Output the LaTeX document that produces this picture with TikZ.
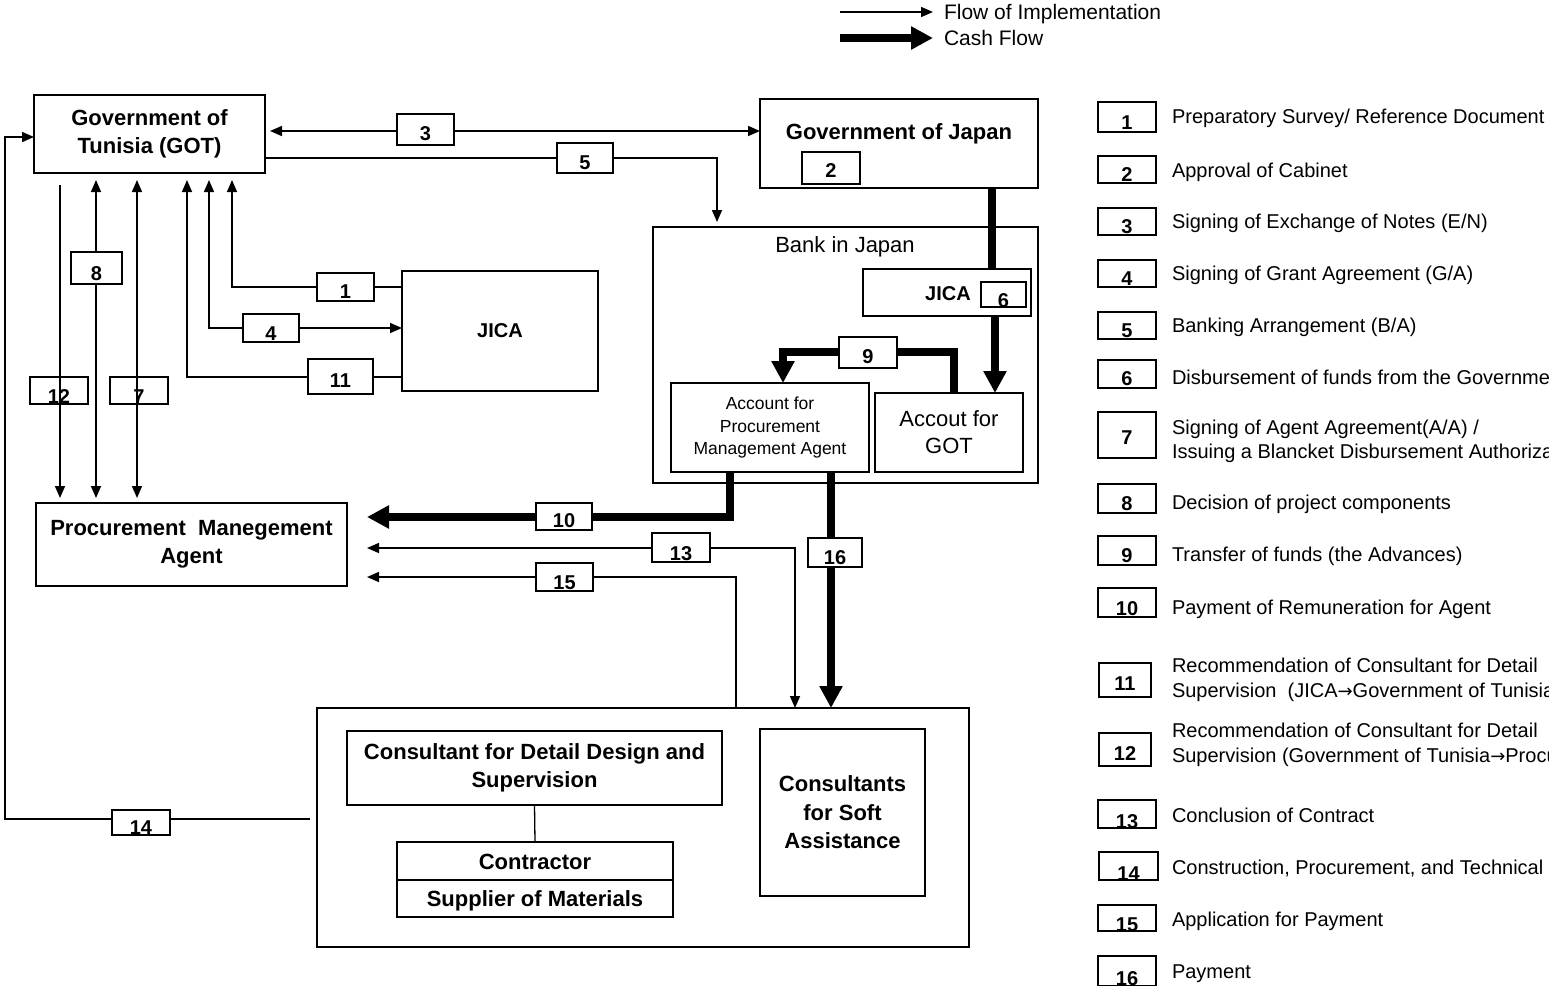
\documentclass[tikz,border=0pt]{standalone}
\usepackage{fontspec}
\setmainfont{Liberation Sans}
\newfontfamily\arrfont{DejaVu Sans}
\usetikzlibrary{arrows.meta}
\newcommand{\rarr}{{\arrfont\fontsize{18}{20}\selectfont →}}
\begin{document}
\begin{tikzpicture}[x=1pt,y=-1pt,
  every node/.style={inner sep=0pt, outer sep=0pt},
  box/.style={draw, line width=1.3pt, inner sep=0pt, align=center},
  bt/.style={font=\bfseries\fontsize{22}{28.5}\selectfont},
  num/.style={draw, fill=white, line width=1.3pt, inner sep=0pt, font=\bfseries\fontsize{20}{20}\selectfont, text height=22pt, text depth=0pt},
  numclear/.style={num, fill=none},
  flow/.style={line width=1.6pt},
  tipf/.tip={Triangle[length=12pt,width=10pt]},
  cash/.style={line width=7.5pt},
  tipc/.tip={Triangle[length=22pt,width=22pt]},
  leg/.style={anchor=base west, font=\fontsize{20}{24}\selectfont},
  legtop/.style={anchor=base west, font=\fontsize{21}{24}\selectfont}
]
\path[use as bounding box, clip] (0,0) rectangle (1549,985);

% ---------- main boxes ----------
\node[box, bt, minimum width=231pt, minimum height=78pt] (got) at (149.5,134) {Government of\\Tunisia (GOT)};
\node[box, minimum width=278pt, minimum height=89pt] (goj) at (899,143.5) {};
\node[bt, anchor=base] (gojt) at (899,139) {Government of Japan};
\node[box, minimum width=385pt, minimum height=256pt] (bank) at (845.5,355) {};
\node[font=\fontsize{22}{26}\selectfont, anchor=base] (bankt) at (845,252) {Bank in Japan};
\node[box, minimum width=168pt, minimum height=47pt] (jicab) at (947,292.5) {};
\node[font=\bfseries\fontsize{20}{24}\selectfont, anchor=base] (jicabt) at (948,300) {JICA};
\node[box, font=\fontsize{17.5}{22.5}\selectfont, minimum width=198pt, minimum height=89pt] (accpma) at (770,427.5) {Account for\\Procurement\\Management Agent};
\node[box, font=\fontsize{22}{27}\selectfont, minimum width=148pt, minimum height=79pt] (accgot) at (949,432.5) {Accout for\\GOT};
\node[box, font=\bfseries\fontsize{20}{24}\selectfont, minimum width=196pt, minimum height=120pt] (jica) at (500,331) {JICA};
\node[box, bt, minimum width=311pt, minimum height=83pt] (pma) at (191.5,544.5) {Procurement~ Manegement\\Agent};
\node[box, minimum width=652pt, minimum height=239pt] (outer) at (643,827.5) {};
\node[box, bt, minimum width=375pt, minimum height=74pt] (cdd) at (534.5,768) {Consultant for Detail Design and\\Supervision};
\node[box, bt, minimum width=276pt, minimum height=38pt, text height=16pt, text depth=0pt] (contr) at (535,861) {Contractor};
\node[box, bt, minimum width=276pt, minimum height=37pt, text height=16pt, text depth=0pt] (supp) at (535,898.5) {Supplier of Materials};
\node[box, bt, minimum width=165pt, minimum height=167pt] (csa) at (842.5,812.5) {Consultants\\for Soft\\Assistance};

% ---------- implementation flows ----------
\draw[flow, {tipf}-{tipf}, shorten <=5pt] (got.east |- 0,131) -- (goj.west |- 0,131);
\draw[flow, -{tipf}, shorten >=5pt] (got.east |- 0,158) -| (bank.north -| 717,0);
\draw[flow, -{tipf}, shorten >=7pt] (jica.west |- 0,287) -| (got.south -| 232,0);
\draw[flow, {tipf}-{tipf}, shorten <=7pt] (got.south -| 209,0) |- (jica.west |- 0,328);
\draw[flow, -{tipf}, shorten >=7pt] (jica.west |- 0,377) -| (got.south -| 187,0);
\draw[flow, -{tipf}, shorten <=12pt, shorten >=5pt] (got.south -| 60,0) -- (pma.north -| 60,0);
\draw[flow, {tipf}-{tipf}, shorten <=7pt, shorten >=5pt] (got.south -| 96,0) -- (pma.north -| 96,0);
\draw[flow, {tipf}-{tipf}, shorten <=7pt, shorten >=5pt] (got.south -| 137,0) -- (pma.north -| 137,0);
\draw[flow, {tipf}-{tipf}, shorten <=20pt] (pma.east |- 0,548) -| (outer.north -| 795,0);
\draw[flow, {tipf}-, shorten <=20pt] (pma.east |- 0,577) -| (outer.north -| 736,0);
\draw[flow, -{tipf}, shorten <=7pt] (outer.west |- 0,819) -| (5,137) -- (got.west |- 0,137);
\draw[line width=1.3pt] (cdd.south) -- (contr.north);

% ---------- cash flows ----------
\draw[cash] (goj.south -| 992,0) -- (jicab.north -| 992,0);
\draw[cash, -{tipc}] (jicab.south -| 995,0) -- (accgot.north -| 995,0);
\draw[cash, -{tipc}] (accgot.north -| 954,0) -- (954,352) -- (783,352) -- (accpma.north -| 783,0);
\draw[cash, -{tipc}, shorten >=20pt] (accpma.south -| 730,0) |- (pma.east |- 0,517);
\draw[cash, -{tipc}] (accpma.south -| 831,0) -- (outer.north -| 831,0);

% ---------- step labels ----------
\node[num, minimum width=57pt, minimum height=31pt, text height=21pt] (n3) at (425.5,129.5) {3};
\node[num, minimum width=56pt, minimum height=30pt] (n5) at (585,158) {5};
\node[num, minimum width=57pt, minimum height=28pt] (n1) at (345.5,287) {1};
\node[num, minimum width=56pt, minimum height=28pt, text height=24pt] (n4) at (271,328) {4};
\node[num, minimum width=65pt, minimum height=35pt, text height=21pt] (n11) at (340.5,376.5) {11};
\node[num, minimum width=51pt, minimum height=32pt, text height=24pt] (n8) at (96.5,268) {8};
\node[numclear, minimum width=58pt, minimum height=27pt, text height=26pt] (n12) at (59,390.5) {12};
\node[numclear, minimum width=58pt, minimum height=27pt, text height=26pt] (n7) at (139,390.5) {7};
\node[num, minimum width=58pt, minimum height=31pt, text height=21pt] (n9) at (868,352.5) {9};
\node[num, minimum width=58pt, minimum height=32pt, text height=19pt] (n2) at (831,168) {2};
\node[num, minimum width=45pt, minimum height=25pt, text height=25pt] (n6) at (1003.5,294.5) {6};
\node[num, minimum width=56pt, minimum height=27pt, text height=21pt] (n10) at (564,516.5) {10};
\node[num, minimum width=58pt, minimum height=29pt, text height=25pt] (n13) at (681,547.5) {13};
\node[num, minimum width=54pt, minimum height=29pt, text height=23pt] (n16) at (835,552.5) {16};
\node[num, minimum width=57pt, minimum height=28pt, text height=24pt] (n15) at (564.5,577) {15};
\node[num, minimum width=58pt, minimum height=25pt, text height=23pt] (n14) at (141,822.5) {14};

% ---------- legend (top) ----------
\coordinate (lf1) at (840,12); \coordinate (lf2) at (933,12);
\coordinate (lc1) at (840,38); \coordinate (lc2) at (933,38);
\draw[flow, -{tipf}] (lf1) -- (lf2);
\draw[cash, -{tipc}] (lc1) -- (lc2);
\node[legtop] (lft) at (944,19) {Flow of Implementation};
\node[legtop] (lct) at (944,45) {Cash Flow};

% ---------- legend (right) ----------
\node[num, minimum width=58pt, minimum height=30pt, text height=24pt] (k1) at (1127,117) {1};
\node[leg] (t1) at (1172,123) {Preparatory Survey/ Reference Document};
\node[num, minimum width=58pt, minimum height=27pt, text height=23pt] (k2) at (1127,169.5) {2};
\node[leg] (t2) at (1172,177) {Approval of Cabinet};
\node[num, minimum width=58pt, minimum height=27pt, text height=23pt] (k3) at (1127,221.5) {3};
\node[leg] (t3) at (1172,228) {Signing of Exchange of Notes (E/N)};
\node[num, minimum width=58pt, minimum height=27pt, text height=23pt] (k4) at (1127,273.5) {4};
\node[leg] (t4) at (1172,280) {Signing of Grant Agreement (G/A)};
\node[num, minimum width=58pt, minimum height=27pt, text height=23pt] (k5) at (1127,325.5) {5};
\node[leg] (t5) at (1172,332) {Banking Arrangement (B/A)};
\node[num, minimum width=58pt, minimum height=28pt, text height=23pt] (k6) at (1127,374) {6};
\node[leg] (t6) at (1172,384) {Disbursement of funds from the Government};
\node[num, minimum width=58pt, minimum height=46pt, text height=18pt] (k7) at (1127,435) {7};
\node[leg] (t7a) at (1172,434) {Signing of Agent Agreement(A/A) /};
\node[leg] (t7b) at (1172,458) {Issuing a Blancket Disbursement Authorization};
\node[num, minimum width=58pt, minimum height=29pt, text height=24pt] (k8) at (1127,498.5) {8};
\node[leg] (t8) at (1172,509.5) {Decision of project components};
\node[num, minimum width=58pt, minimum height=29pt, text height=24pt] (k9) at (1127,550.5) {9};
\node[leg] (t9) at (1172,561) {Transfer of funds (the Advances)};
\node[num, minimum width=58pt, minimum height=29pt, text height=25pt] (k10) at (1127,602.5) {10};
\node[leg] (t10) at (1172,614) {Payment of Remuneration for Agent};
\node[num, minimum width=52pt, minimum height=34pt, text height=20pt] (k11) at (1125,680) {11};
\node[leg] (t11a) at (1172,672) {Recommendation of Consultant for Detail};
\node[leg] (t11b) at (1172,697) {Supervision~ (JICA\rarr Government of Tunisia)};
\node[num, minimum width=52pt, minimum height=33pt, text height=21pt] (k12) at (1125,749.5) {12};
\node[leg] (t12a) at (1172,737) {Recommendation of Consultant for Detail};
\node[leg] (t12b) at (1172,762) {Supervision (Government of Tunisia\rarr Procurement};
\node[num, minimum width=58pt, minimum height=28pt, text height=28pt] (k13) at (1127,814) {13};
\node[leg] (t13) at (1172,822) {Conclusion of Contract};
\node[num, minimum width=59pt, minimum height=28pt, text height=28pt] (k14) at (1128.5,866) {14};
\node[leg] (t14) at (1172,874.5) {Construction, Procurement, and Technical};
\node[num, minimum width=58pt, minimum height=26pt, text height=26pt] (k15) at (1127,918) {15};
\node[leg] (t15) at (1172,926) {Application for Payment};
\node[num, minimum width=58pt, minimum height=30pt, text height=28pt] (k16) at (1127,971) {16};
\node[leg] (t16) at (1172,978) {Payment};
\end{tikzpicture}
\end{document}
